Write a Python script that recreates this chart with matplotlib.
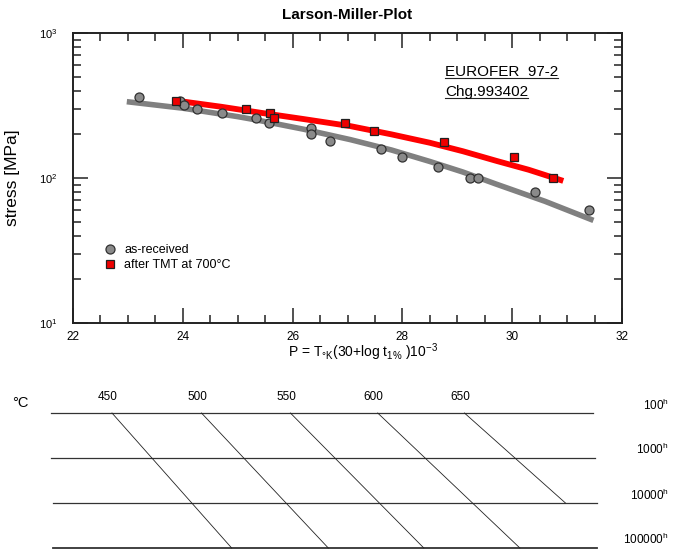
import numpy as np
import matplotlib
matplotlib.use("Agg")
import matplotlib.pyplot as plt
from matplotlib.ticker import MultipleLocator, LogLocator, NullFormatter

plt.rcParams['font.family'] = ['Liberation Sans', 'DejaVu Sans']
plt.rcParams['mathtext.fontset'] = 'custom'
plt.rcParams['mathtext.rm'] = 'Liberation Sans'
plt.rcParams['mathtext.it'] = 'Liberation Sans:italic'
plt.rcParams['mathtext.bf'] = 'Liberation Sans:bold'

# measured points: Larson-Miller parameter P and stress in MPa
asrec_P = [23.21, 23.95, 24.03, 24.26, 24.72, 25.34, 25.57, 26.33, 26.33,
           26.68, 27.61, 27.99, 28.65, 29.23, 29.37, 30.42, 31.39]
asrec_S = [360, 341, 321, 299, 279, 259, 238, 220, 200,
           179, 159, 139, 120, 100, 100, 80, 60]

tmt_P = [23.88, 25.16, 25.59, 25.66, 26.95, 27.48, 28.76, 30.04, 30.75]
tmt_S = [340, 299, 280, 261, 238, 210, 178, 140, 100]

# fitted curves
asrec_fit_P = [22.98, 24.0, 25.0, 25.4, 26.2, 27.05, 27.8, 28.5, 29.1, 29.7, 30.6, 31.48]
asrec_fit_S = [336, 303, 265, 249, 217, 184, 156, 130, 110, 91, 69, 51]

tmt_fit_P = [23.92, 24.7, 25.41, 26.2, 27.05, 27.8, 28.5, 29.1, 29.72, 30.3, 30.93]
tmt_fit_S = [340, 310, 282, 255, 228, 200, 175, 153, 131, 114, 95.5]

# nomogram below: temperature lines running from 100 h row down
temps = ['450', '500', '550', '600', '650']
temp_P_top = [22.71, 24.34, 25.96, 27.55, 29.13]
temp_P_end = [24.89, 26.65, 28.39, 30.14, 30.97]
temp_end_row = [3, 3, 3, 3, 2]
hour_labels = ['100$^{\\mathrm{h}}$', '1000$^{\\mathrm{h}}$',
               '10000$^{\\mathrm{h}}$', '100000$^{\\mathrm{h}}$']
row_P_left = [21.60, 21.60, 21.64, 21.64]
row_P_right = [31.47, 31.51, 31.55, 31.55]

W, H = 681, 549
fig = plt.figure(figsize=(W / 100, H / 100), dpi=100)

# ---- Larson-Miller plot ----
ax = fig.add_axes([73 / W, 1 - 323 / H, 549 / W, 290 / H])
ax.set_yscale('log')
ax.set_xlim(22, 32)
ax.set_ylim(10, 1000)

ax.plot(asrec_fit_P, asrec_fit_S, color='#808080', lw=4.0,
        solid_capstyle='butt', solid_joinstyle='round', zorder=2)
ax.plot(tmt_fit_P, tmt_fit_S, color='#ff0000', lw=4.2,
        solid_capstyle='butt', solid_joinstyle='round', zorder=2)
ax.plot(asrec_P, asrec_S, 'o', ms=6.5, mfc='#8a8a8a', mec='#303030', mew=0.9,
        ls='none', label='as-received', zorder=3)
ax.plot(tmt_P, tmt_S, 's', ms=5.8, mfc='#ee0000', mec='#202020', mew=0.9,
        ls='none', label='after TMT at 700°C', zorder=4)

ax.xaxis.set_major_locator(MultipleLocator(2))
ax.xaxis.set_minor_locator(MultipleLocator(0.5))
ax.yaxis.set_major_locator(LogLocator(base=10))
ax.yaxis.set_minor_locator(LogLocator(base=10, subs=np.arange(2, 10)))
ax.yaxis.set_minor_formatter(NullFormatter())
ax.tick_params(which='both', direction='in', top=True, right=True, width=1.1,
               color='#222222')
ax.tick_params(which='major', length=11)
ax.tick_params(which='minor', length=5.5)
ax.tick_params(axis='x', labelsize=8.5, pad=6)
ax.tick_params(axis='y', labelsize=8, pad=11)
for sp in ax.spines.values():
    sp.set_linewidth(1.4)
    sp.set_color('#222222')

ax.set_title('Larson-Miller-Plot', fontsize=11, fontweight='bold', pad=10)
ax.set_ylabel('stress [MPa]', fontsize=12.5)
ax.yaxis.set_label_coords(-0.097, 0.5)
ax.set_xlabel(r'P = T$_{\rm °K}$(30+log t$_{\rm 1\%}$ )10$^{-3}$',
              fontsize=10, va='center')
ax.xaxis.set_label_coords(0.528, -0.102)

ax.legend(loc='upper left', bbox_to_anchor=(0.0566, 0.272), frameon=False,
          fontsize=9, handlelength=1.0, handletextpad=0.6, labelspacing=0.25,
          borderpad=0, borderaxespad=0)

t1 = ax.text(0.678, 0.852, 'EUROFER  97-2', transform=ax.transAxes,
             fontsize=11, va='baseline', ha='left')
t2 = ax.text(0.678, 0.783, 'Chg.993402', transform=ax.transAxes,
             fontsize=11, va='baseline', ha='left')

# underline the two label lines
fig.canvas.draw()
inv = ax.transAxes.inverted()
for t in (t1, t2):
    bb = t.get_window_extent()
    base = ax.transAxes.transform((0, t.get_position()[1]))[1] - 2
    (x0, yb), (x1, _) = inv.transform([(bb.x0, base), (bb.x1, base)])
    ax.plot([x0, x1], [yb, yb], color='#222222', lw=0.8,
            transform=ax.transAxes, clip_on=False)

# ---- time/temperature nomogram ----
axb = fig.add_axes([73 / W, 1 - 548 / H, 549 / W, 135 / H])
axb.set_xlim(22, 32)
axb.set_ylim(3, 0)
axb.axis('off')

for i in range(len(hour_labels)):
    axb.plot([row_P_left[i], row_P_right[i]], [i, i], color='#333333',
             lw=1.3 if i == 3 else 0.9, clip_on=False)
    axb.text(32.85, i - 0.18, hour_labels[i], ha='right', va='center',
             fontsize=8.5, clip_on=False)

for i in range(len(temps)):
    axb.plot([temp_P_top[i], temp_P_end[i]], [0, temp_end_row[i]],
             color='#222222', lw=0.6, clip_on=False)
    axb.annotate(temps[i], xy=(temp_P_top[i], 0), xytext=(-3, 11.5),
                 textcoords='offset points', ha='center', va='center',
                 fontsize=8.5, annotation_clip=False)

fig.text(20 / W, 1 - 403 / H, '°C', ha='center', va='center', fontsize=10.5)

fig.savefig('out.png', dpi=100)
